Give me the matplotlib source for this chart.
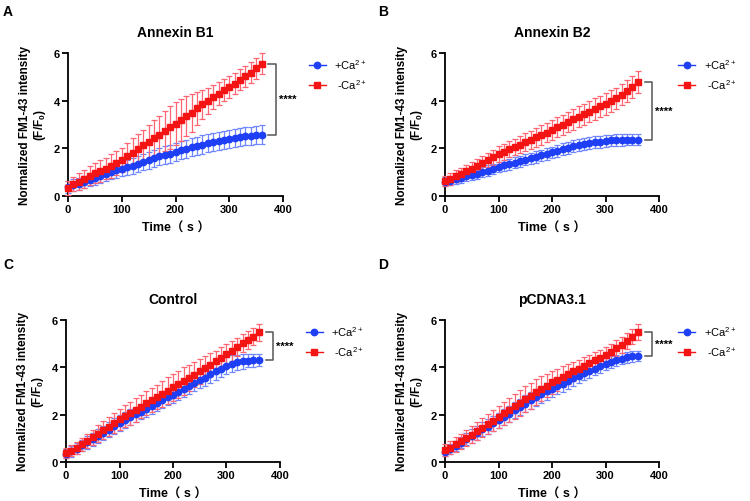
import matplotlib
matplotlib.use("Agg")
import matplotlib.pyplot as plt

plt.rcParams['font.family'] = ['Liberation Sans', 'DejaVu Sans']
plt.rcParams['mathtext.fontset'] = 'custom'
plt.rcParams['mathtext.rm'] = 'Liberation Sans'
plt.rcParams['mathtext.it'] = 'Liberation Sans'
plt.rcParams['mathtext.bf'] = 'Liberation Sans:bold'

time_s = [0, 10, 20, 30, 40, 50, 60, 70, 80, 90, 100, 110, 120, 130, 140, 150, 160, 170, 180,
          190, 200, 210, 220, 230, 240, 250, 260, 270, 280, 290, 300, 310, 320, 330, 340, 350, 360]

titles = ["Annexin B1", "Annexin B2", "Control", "pCDNA3.1"]
panel_labels = ["A", "B", "C", "D"]
legend_labels = ["+Ca$^{2+}$", " -Ca$^{2+}$"]
x_ticks = [0, 100, 200, 300, 400]
y_ticks = [0, 2, 4, 6]
sig_text = "****"

# Annexin B1
a_plus = [0.38, 0.45, 0.52, 0.60, 0.68, 0.76, 0.84, 0.92, 1.00, 1.07, 1.14, 1.20, 1.27, 1.34, 1.42, 1.50, 1.58, 1.66, 1.72,
          1.78, 1.85, 1.92, 1.98, 2.04, 2.10, 2.16, 2.21, 2.26, 2.31, 2.35, 2.39, 2.42, 2.46, 2.50, 2.53, 2.56, 2.58]
a_plus_err = [0.25, 0.25, 0.25, 0.25, 0.28, 0.28, 0.30, 0.30, 0.30, 0.30, 0.32, 0.32, 0.33, 0.33, 0.35, 0.35, 0.35, 0.36, 0.36,
              0.38, 0.38, 0.38, 0.38, 0.38, 0.38, 0.38, 0.38, 0.38, 0.38, 0.38, 0.38, 0.38, 0.38, 0.38, 0.38, 0.38, 0.38]
a_minus = [0.35, 0.50, 0.60, 0.72, 0.85, 0.95, 1.05, 1.15, 1.25, 1.38, 1.52, 1.68, 1.82, 1.97, 2.12, 2.27, 2.42, 2.56, 2.72,
           2.88, 3.03, 3.20, 3.35, 3.50, 3.68, 3.85, 4.00, 4.15, 4.30, 4.45, 4.58, 4.72, 4.88, 5.02, 5.18, 5.35, 5.55]
a_minus_err = [0.30, 0.30, 0.35, 0.38, 0.40, 0.42, 0.45, 0.45, 0.50, 0.50, 0.50, 0.55, 0.60, 0.62, 0.65, 0.70, 0.75, 0.80, 0.85,
               0.90, 0.90, 0.88, 0.85, 0.80, 0.70, 0.60, 0.55, 0.50, 0.50, 0.48, 0.46, 0.45, 0.45, 0.45, 0.45, 0.43, 0.43]

# Annexin B2
b_plus = [0.60, 0.65, 0.70, 0.76, 0.82, 0.88, 0.94, 1.00, 1.06, 1.13, 1.22, 1.28, 1.34, 1.40, 1.46, 1.52, 1.58, 1.64, 1.70,
          1.77, 1.83, 1.90, 1.96, 2.02, 2.08, 2.14, 2.19, 2.23, 2.26, 2.28, 2.30, 2.33, 2.35, 2.36, 2.37, 2.37, 2.37]
b_plus_err = [0.20, 0.20, 0.20, 0.20, 0.20, 0.21, 0.21, 0.22, 0.22, 0.22, 0.22, 0.23, 0.23, 0.23, 0.23, 0.23, 0.24, 0.24, 0.24,
              0.24, 0.24, 0.25, 0.25, 0.25, 0.25, 0.25, 0.25, 0.25, 0.25, 0.25, 0.25, 0.25, 0.25, 0.25, 0.25, 0.25, 0.25]
b_minus = [0.62, 0.72, 0.82, 0.93, 1.04, 1.15, 1.27, 1.38, 1.50, 1.63, 1.76, 1.86, 1.96, 2.06, 2.16, 2.26, 2.36, 2.46, 2.56,
           2.66, 2.77, 2.88, 2.99, 3.10, 3.21, 3.32, 3.43, 3.54, 3.65, 3.76, 3.86, 3.98, 4.10, 4.25, 4.40, 4.58, 4.78]
b_minus_err = [0.22, 0.24, 0.25, 0.26, 0.27, 0.28, 0.29, 0.30, 0.30, 0.31, 0.32, 0.33, 0.34, 0.35, 0.36, 0.37, 0.38, 0.39, 0.40,
               0.40, 0.41, 0.42, 0.42, 0.43, 0.43, 0.44, 0.44, 0.45, 0.45, 0.45, 0.45, 0.45, 0.45, 0.45, 0.45, 0.45, 0.45]

# Control
c_plus = [0.35, 0.45, 0.57, 0.70, 0.83, 0.96, 1.10, 1.23, 1.37, 1.51, 1.65, 1.77, 1.89, 2.01, 2.13, 2.25, 2.37, 2.49, 2.61,
          2.73, 2.84, 2.96, 3.08, 3.20, 3.33, 3.45, 3.57, 3.70, 3.83, 3.95, 4.07, 4.16, 4.21, 4.25, 4.28, 4.30, 4.31]
c_plus_err = [0.20, 0.22, 0.24, 0.25, 0.27, 0.28, 0.30, 0.30, 0.32, 0.33, 0.33, 0.33, 0.33, 0.33, 0.33, 0.33, 0.33, 0.33, 0.33,
              0.33, 0.33, 0.33, 0.33, 0.33, 0.33, 0.33, 0.34, 0.35, 0.36, 0.37, 0.37, 0.36, 0.32, 0.30, 0.28, 0.27, 0.27]
c_minus = [0.38, 0.48, 0.60, 0.75, 0.90, 1.05, 1.20, 1.35, 1.50, 1.65, 1.80, 1.93, 2.06, 2.20, 2.34, 2.48, 2.61, 2.75, 2.88,
           3.02, 3.15, 3.28, 3.42, 3.55, 3.69, 3.83, 3.97, 4.11, 4.25, 4.40, 4.55, 4.70, 4.86, 5.01, 5.16, 5.30, 5.48]
c_minus_err = [0.20, 0.22, 0.25, 0.28, 0.30, 0.32, 0.35, 0.37, 0.40, 0.42, 0.45, 0.46, 0.48, 0.50, 0.50, 0.50, 0.50, 0.52, 0.54,
               0.56, 0.56, 0.58, 0.58, 0.56, 0.54, 0.52, 0.50, 0.48, 0.46, 0.45, 0.44, 0.42, 0.40, 0.38, 0.37, 0.36, 0.35]

# pCDNA3.1
d_plus = [0.42, 0.55, 0.68, 0.82, 0.96, 1.10, 1.24, 1.38, 1.50, 1.63, 1.76, 1.90, 2.04, 2.18, 2.32, 2.46, 2.60, 2.73, 2.86,
          2.98, 3.09, 3.20, 3.31, 3.42, 3.53, 3.64, 3.75, 3.85, 3.95, 4.05, 4.14, 4.22, 4.30, 4.37, 4.42, 4.46, 4.49]
d_plus_err = [0.18, 0.20, 0.22, 0.24, 0.26, 0.28, 0.30, 0.30, 0.32, 0.33, 0.33, 0.33, 0.34, 0.34, 0.35, 0.35, 0.35, 0.35, 0.35,
              0.35, 0.35, 0.34, 0.34, 0.33, 0.32, 0.31, 0.30, 0.30, 0.28, 0.27, 0.26, 0.25, 0.24, 0.23, 0.22, 0.22, 0.22]
d_minus = [0.50, 0.60, 0.74, 0.88, 1.02, 1.16, 1.30, 1.45, 1.60, 1.75, 1.90, 2.05, 2.20, 2.35, 2.50, 2.65, 2.80, 2.95, 3.10,
           3.23, 3.37, 3.48, 3.60, 3.72, 3.83, 3.94, 4.05, 4.17, 4.29, 4.40, 4.52, 4.65, 4.80, 4.95, 5.10, 5.30, 5.50]
d_minus_err = [0.25, 0.27, 0.30, 0.32, 0.34, 0.36, 0.38, 0.40, 0.42, 0.44, 0.46, 0.48, 0.50, 0.52, 0.54, 0.55, 0.55, 0.54, 0.52,
               0.50, 0.48, 0.46, 0.44, 0.42, 0.40, 0.38, 0.37, 0.36, 0.35, 0.35, 0.35, 0.34, 0.34, 0.34, 0.33, 0.33, 0.33]

plus_series = [a_plus, b_plus, c_plus, d_plus]
plus_errs = [a_plus_err, b_plus_err, c_plus_err, d_plus_err]
minus_series = [a_minus, b_minus, c_minus, d_minus]
minus_errs = [a_minus_err, b_minus_err, c_minus_err, d_minus_err]

BLUE = "#1f3ff6"
BLUE_ERR = "#6f86ff"
RED = "#f51414"
RED_ERR = "#ff6672"

fig = plt.figure(figsize=(7.5, 5.02), dpi=100)

positions = [
    (68 / 750, 1 - 197 / 502, 215 / 750, 143 / 502),
    (445 / 750, 1 - 197 / 502, 214 / 750, 143 / 502),
    (66 / 750, 1 - 463 / 502, 214 / 750, 142 / 502),
    (445 / 750, 1 - 463 / 502, 214 / 750, 142 / 502),
]
label_pos = [(3 / 750, 1 - 12 / 502), (378 / 750, 1 - 12 / 502),
             (3 / 750, 1 - 265 / 502), (378 / 750, 1 - 265 / 502)]
legend_x = [1.10, 1.07, 1.10, 1.07]

for i in range(4):
    ax = fig.add_axes(positions[i])
    ax.errorbar(time_s, plus_series[i], yerr=plus_errs[i], fmt='none', ecolor=BLUE_ERR,
                elinewidth=0.9, capsize=2.2, capthick=0.9, zorder=2, clip_on=False)
    ax.errorbar(time_s, minus_series[i], yerr=minus_errs[i], fmt='none', ecolor=RED_ERR,
                elinewidth=0.9, capsize=2.2, capthick=0.9, zorder=3, clip_on=False)
    ax.plot(time_s, plus_series[i], color=BLUE, marker='o', markersize=4.6, linewidth=1.0,
            label=legend_labels[0], zorder=4, clip_on=False)
    ax.plot(time_s, minus_series[i], color=RED, marker='s', markersize=4.6, linewidth=1.0,
            label=legend_labels[1], zorder=5, clip_on=False)

    ax.set_xlim(0, 400)
    ax.set_ylim(0, 6)
    ax.set_xticks(x_ticks)
    ax.set_yticks(y_ticks)
    for s in ['top', 'right']:
        ax.spines[s].set_visible(False)
    for s in ['left', 'bottom']:
        ax.spines[s].set_linewidth(1.3)
    ax.tick_params(direction='out', length=4, width=1.3, labelsize=8, pad=2)
    for lab in ax.get_xticklabels() + ax.get_yticklabels():
        lab.set_fontweight('bold')

    ax.set_title(titles[i], fontsize=10, fontweight='bold', pad=12)
    ax.set_ylabel("Normalized FM1-43 intensity\n(F/F$_\\mathbf{0}$)", fontsize=8.5,
                  fontweight='bold', linespacing=1.1, labelpad=4)
    ax.set_xlabel("Time（ s ）", fontsize=9, fontweight='bold', labelpad=5,
                  family=['Liberation Sans', 'Noto Sans CJK SC'])

    # significance bracket
    y_top = minus_series[i][-1]
    y_bot = plus_series[i][-1]
    ax.plot([373, 387, 387, 373], [y_top, y_top, y_bot, y_bot], color='#555555',
            linewidth=1.1, clip_on=False)
    ax.text(393, (y_top + y_bot) / 2, sig_text, fontsize=8, fontweight='bold',
            ha='left', va='center')

    ax.legend(loc='upper left', bbox_to_anchor=(legend_x[i], 1.0), frameon=False, fontsize=8,
              handlelength=1.5, handletextpad=0.8, labelspacing=0.55, borderaxespad=0)

    fig.text(label_pos[i][0], label_pos[i][1], panel_labels[i], fontsize=10,
             fontweight='bold', ha='left', va='center')

fig.savefig("out.png", dpi=100)
